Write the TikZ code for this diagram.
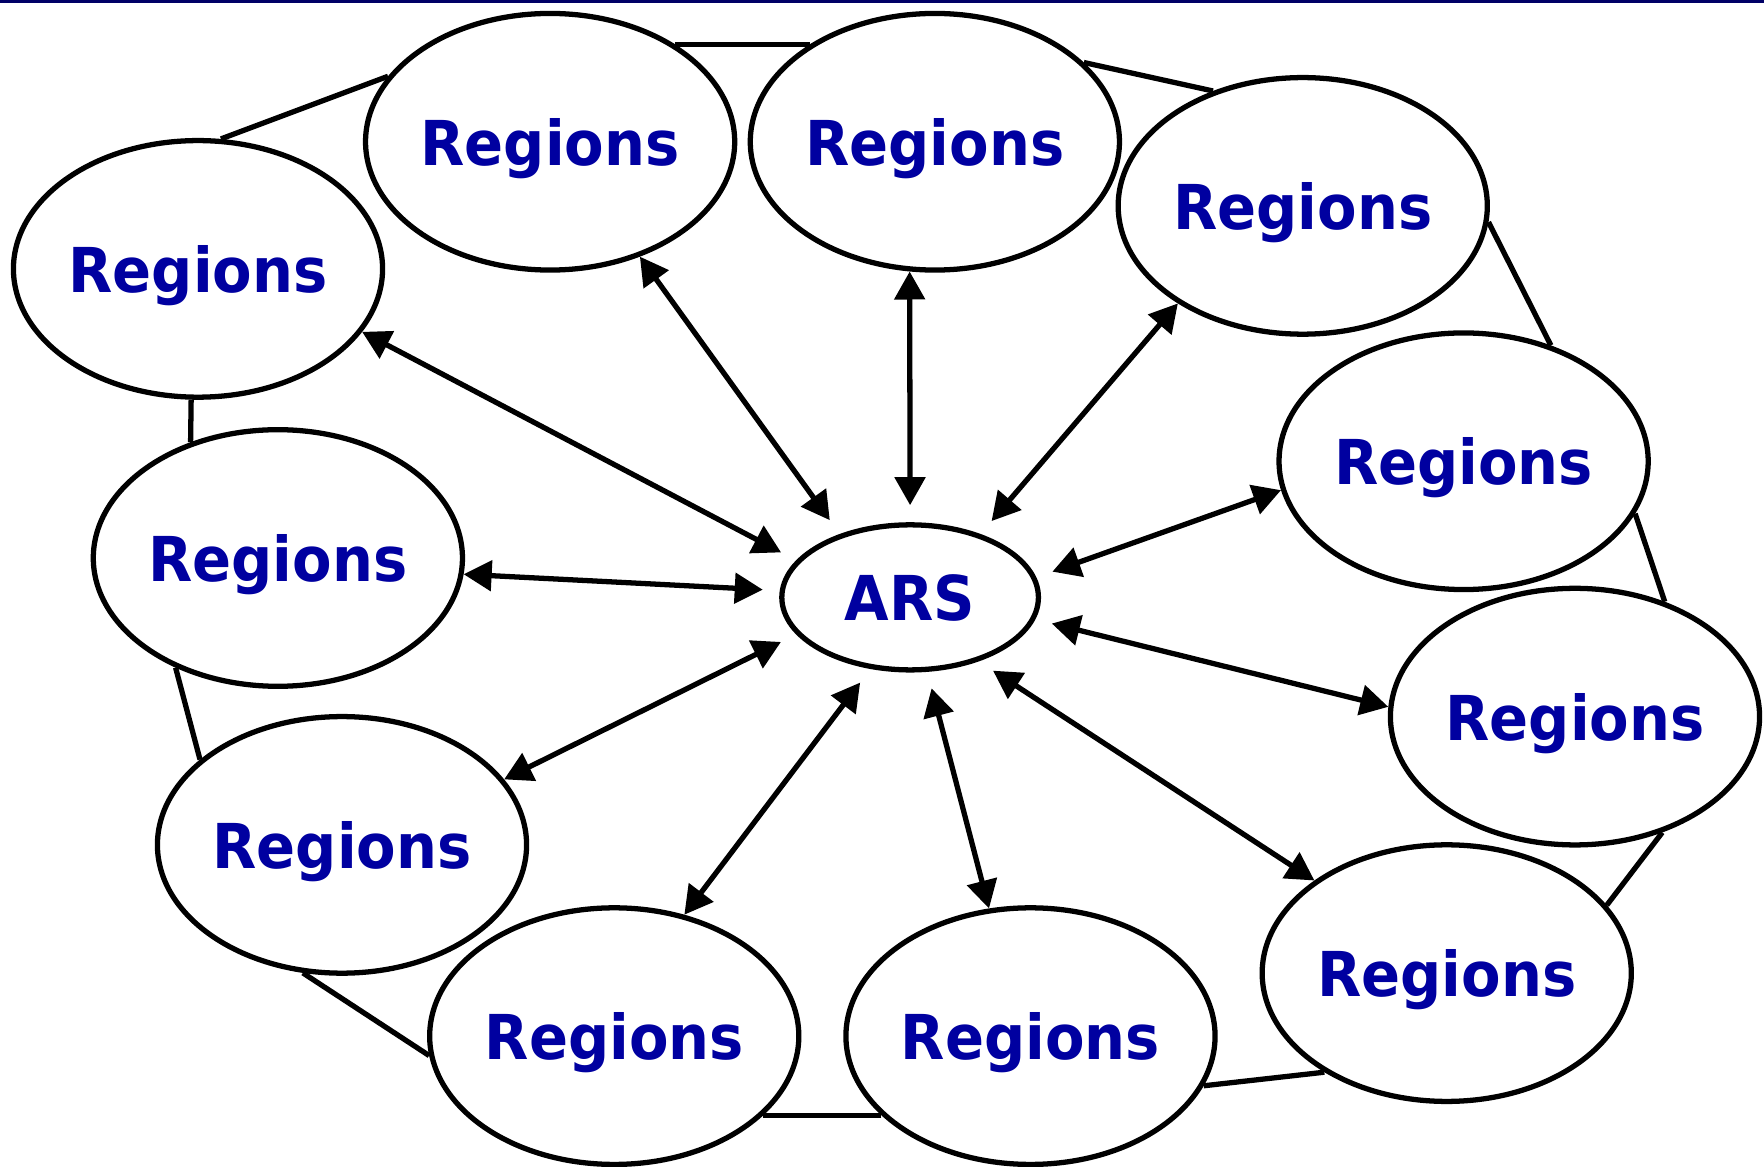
\documentclass[tikz,border=0pt]{standalone}
\usepackage{fontspec}
\newfontfamily\regfont{DejaVu Sans}[FakeStretch=0.93]
\usepackage{tikz}
\usetikzlibrary{arrows.meta,shapes.geometric}
\definecolor{regblue}{RGB}{0,0,160}
\definecolor{topnavy}{RGB}{0,0,102}

\begin{document}
\begin{tikzpicture}[x=0.01125cm,y=-0.01125cm,line width=1.5pt,
    region/.style={draw,ellipse,inner sep=0pt,minimum width=3.69cm,minimum height=2.565cm,text=regblue,text depth=0pt,font=\regfont\bfseries\fontsize{17.6}{20}\selectfont},
    link/.style={{Triangle[length=0.28cm,width=0.3cm]}-{Triangle[length=0.28cm,width=0.3cm]},shorten <=0.17cm}]
    \useasboundingbox (0,0) rectangle (1568,1037);
    \fill[topnavy](0,0)rectangle(1568,2.7);
    \node[region](reg1) at (489,126){Regions};
    \node[region](reg2) at (831,126){Regions};
    \node[region](reg3) at (1158,183){Regions};
    \node[region](reg4) at (1301,410){Regions};
    \node[region](reg5) at (1400,637){Regions};
    \node[region](reg6) at (1286,865){Regions};
    \node[region](reg7) at (916,921){Regions};
    \node[region](reg8) at (546,921){Regions};
    \node[region](reg9) at (304,751){Regions};
    \node[region](reg10) at (247,496){Regions};
    \node[region](reg11) at (176,239){Regions};
    \node[region,minimum width=2.565cm,minimum height=1.45cm](ars) at (809,531){ARS};
    \draw(reg1.38)--(reg2.142);
    \draw(reg2.28)--(reg3.128);
    \draw(reg3.-5)--(reg4.53);
    \draw(reg4.-17)--(reg5.52);
    \draw(reg5.-53)--(reg6.23);
    \draw(reg6.219)--(reg7.-16);
    \draw(reg7.208)--(reg8.-28);
    \draw(reg8.186)--(reg9.253);
    \draw(reg9.149)--(reg10.227);
    \draw(reg10.127)--(reg11.267);
    \draw(reg11.80)--(reg1.158);
    \draw[link](ars.138)--(reg1.-52);
    \draw[link](ars.90)--(reg2.259);
    \draw[link](ars.42)--(reg3.218);
    \draw[link](ars.9)--(reg4.189);
    \draw[link](ars.-10)--(reg5.177);
    \draw[link](ars.-43)--(reg6.145);
    \draw[link](ars.-77)--(reg7.108);
    \draw[link](ars.-119)--(reg8.60);
    \draw[link](ars.198)--(reg9.22);
    \draw[link](ars.177)--(reg10.-5);
    \draw[link](ars.162)--(reg11.-21);
\end{tikzpicture}
\end{document}
